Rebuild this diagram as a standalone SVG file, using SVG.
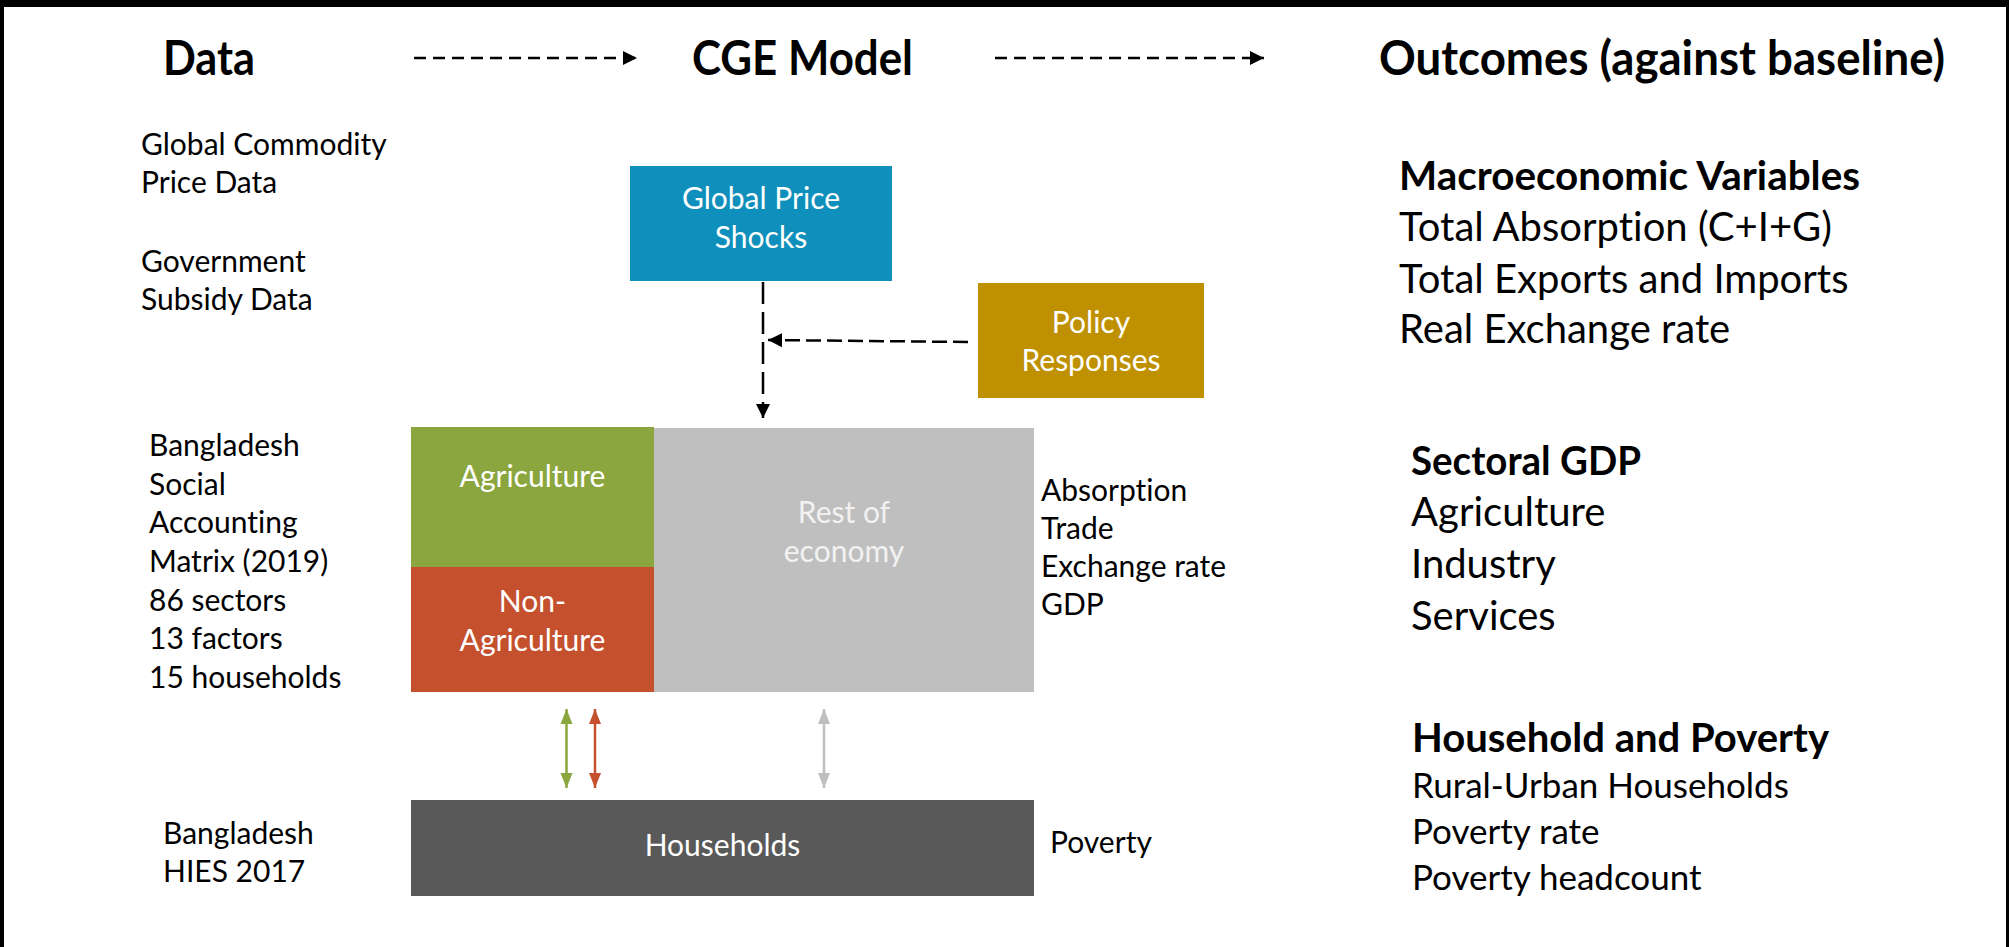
<svg xmlns="http://www.w3.org/2000/svg" width="2009" height="947" viewBox="0 0 2009 947">
<style>
text{font-family:Lato,"Liberation Sans",sans-serif;fill:#000;font-variant-ligatures:none;font-feature-settings:"liga" 0,"clig" 0}
.hd{font-size:48px;font-weight:bold}
.lt{font-size:30px}
.bx{font-size:30px;fill:#fff;text-anchor:middle}
.rb{font-size:41px;font-weight:bold}
.r1{font-size:40px}
.r2{font-size:35px}
.dash{fill:none;stroke:#000;stroke-width:2.5}
</style>
<defs>
<marker id="ah" markerUnits="userSpaceOnUse" markerWidth="16" markerHeight="16" refX="14" refY="8" orient="auto"><path d="M0,1 L14,8 L0,15 Z" fill="#000"/></marker>
<marker id="g" markerUnits="userSpaceOnUse" markerWidth="16" markerHeight="14" refX="15" refY="7" orient="auto-start-reverse"><path d="M0,1 L15,7 L0,13 Z" fill="#8BA63E"/></marker>
<marker id="r" markerUnits="userSpaceOnUse" markerWidth="16" markerHeight="14" refX="15" refY="7" orient="auto-start-reverse"><path d="M0,1 L15,7 L0,13 Z" fill="#C4502E"/></marker>
<marker id="k" markerUnits="userSpaceOnUse" markerWidth="16" markerHeight="14" refX="15" refY="7" orient="auto-start-reverse"><path d="M0,1 L15,7 L0,13 Z" fill="#BFBFBF"/></marker>
</defs>
<rect width="2009" height="947" fill="#fff"/>
<g id="frame">
<rect x="0" y="0" width="2009" height="7" fill="#000"/>
<rect x="0" y="0" width="4" height="947" fill="#000"/>
<rect x="2006" y="0" width="3" height="947" fill="#000"/>
</g>
<g id="headers">
<text class="hd" x="163" y="75" textLength="92" lengthAdjust="spacingAndGlyphs">Data</text>
<text class="hd" x="692" y="75" textLength="221" lengthAdjust="spacingAndGlyphs">CGE Model</text>
<text class="hd" x="1379" y="75" textLength="566" lengthAdjust="spacingAndGlyphs">Outcomes (against baseline)</text>
</g>
<g id="data-left">
<text class="lt" x="141" y="155">Global Commodity</text>
<text class="lt" x="141" y="193">Price Data</text>
<text class="lt" x="141" y="272">Government</text>
<text class="lt" x="141" y="310">Subsidy Data</text>
<text class="lt" x="149" y="456">Bangladesh</text>
<text class="lt" x="149" y="495">Social</text>
<text class="lt" x="149" y="533">Accounting</text>
<text class="lt" x="149" y="572">Matrix (2019)</text>
<text class="lt" x="149" y="611">86 sectors</text>
<text class="lt" x="149" y="649">13 factors</text>
<text class="lt" x="149" y="688">15 households</text>
<text class="lt" x="163" y="844">Bangladesh</text>
<text class="lt" x="163" y="882">HIES 2017</text>
</g>
<g id="global-price-shocks">
<rect x="630" y="166" width="262" height="115" fill="#0F8FBB"/>
<text class="bx" x="761" y="209">Global Price</text>
<text class="bx" x="761" y="248">Shocks</text>
</g>
<g id="policy-responses">
<rect x="978" y="283" width="226" height="115" fill="#BF9000"/>
<text class="bx" x="1091" y="333">Policy</text>
<text class="bx" x="1091" y="371">Responses</text>
</g>
<g id="agriculture">
<rect x="411" y="427" width="243" height="140" fill="#8BA63E"/>
<text class="bx" x="532.5" y="487">Agriculture</text>
</g>
<g id="non-agriculture">
<rect x="411" y="567" width="243" height="125" fill="#C4502E"/>
<text class="bx" x="532.5" y="612">Non-</text>
<text class="bx" x="532.5" y="651">Agriculture</text>
</g>
<g id="rest-of-economy">
<rect x="654" y="428" width="380" height="264" fill="#BFBFBF"/>
<text class="bx" x="844" y="523" style="fill:#F2F2F2">Rest of</text>
<text class="bx" x="844" y="562" style="fill:#F2F2F2">economy</text>
</g>
<g id="households">
<rect x="411" y="800" width="623" height="96" fill="#595959"/>
<text class="bx" x="722.5" y="856">Households</text>
</g>
<g id="model-outputs">
<text class="lt" x="1041" y="501">Absorption</text>
<text class="lt" x="1041" y="539">Trade</text>
<text class="lt" x="1041" y="577">Exchange rate</text>
<text class="lt" x="1041" y="615">GDP</text>
<text class="lt" x="1050" y="853">Poverty</text>
</g>
<g id="outcomes">
<text class="rb" x="1399" y="190" textLength="461" lengthAdjust="spacingAndGlyphs">Macroeconomic Variables</text>
<text class="r1" x="1399" y="241">Total Absorption (C+I+G)</text>
<text class="r1" x="1399" y="293">Total Exports and Imports</text>
<text class="r1" x="1399" y="343">Real Exchange rate</text>
<text class="rb" x="1411" y="475" textLength="230" lengthAdjust="spacingAndGlyphs">Sectoral GDP</text>
<text class="r1" x="1411" y="526">Agriculture</text>
<text class="r1" x="1411" y="578">Industry</text>
<text class="r1" x="1411" y="630">Services</text>
<text class="rb" x="1412" y="752" textLength="417" lengthAdjust="spacingAndGlyphs">Household and Poverty</text>
<text class="r2" x="1412" y="798">Rural-Urban Households</text>
<text class="r2" x="1412" y="844">Poverty rate</text>
<text class="r2" x="1412" y="890">Poverty headcount</text>
</g>
<g id="connectors">
<path d="M414,58 H637" class="dash" stroke-width="3" stroke-dasharray="12 7" marker-end="url(#ah)"/>
<path d="M995,58 H1264" class="dash" stroke-width="3" stroke-dasharray="12 7" marker-end="url(#ah)"/>
<path d="M763,282 V418" class="dash" stroke-dasharray="22 8" marker-end="url(#ah)"/>
<path d="M968,342 L768,340" class="dash" stroke-width="2" stroke-dasharray="15 6" marker-end="url(#ah)"/>
<path d="M566.5,709 V788" fill="none" stroke="#8BA63E" stroke-width="2.5" marker-start="url(#g)" marker-end="url(#g)"/>
<path d="M595,709 V788" fill="none" stroke="#C4502E" stroke-width="2.5" marker-start="url(#r)" marker-end="url(#r)"/>
<path d="M824,709 V788" fill="none" stroke="#BFBFBF" stroke-width="2.5" marker-start="url(#k)" marker-end="url(#k)"/>
</g>
</svg>
